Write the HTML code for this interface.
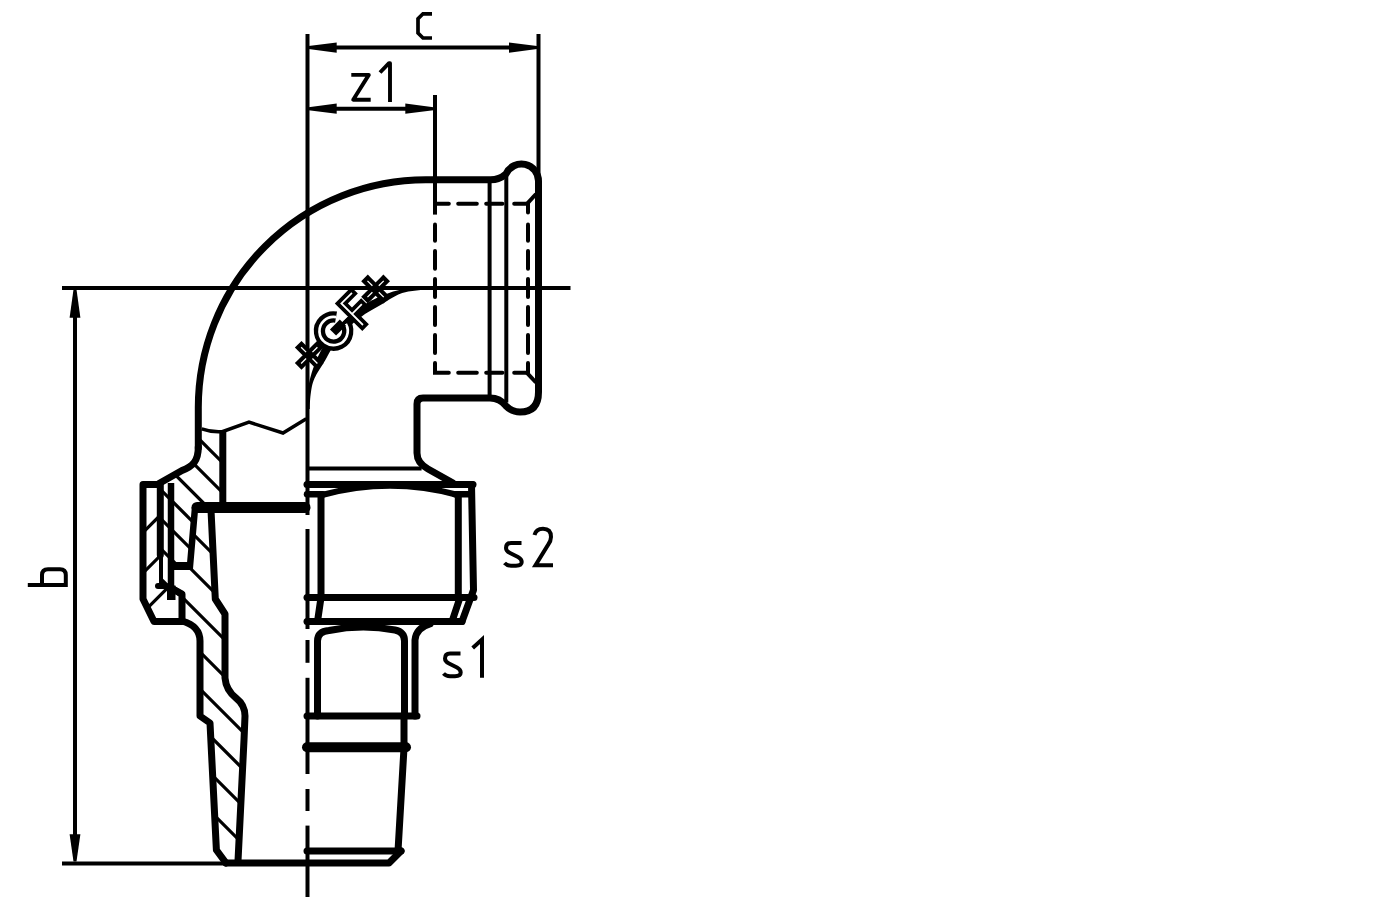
<!DOCTYPE html><html><head><meta charset="utf-8"><title>Union elbow drawing</title><style>html,body{margin:0;padding:0;background:#fff;width:1400px;height:900px;overflow:hidden;font-family:"Liberation Sans",sans-serif}svg{display:block}</style></head><body><svg width="1400" height="900" viewBox="0 0 1400 900"><defs><clipPath id="cb"><path d="M198,428 L222.5,431.7 L222.8,507 L194,507 L190,566 L171,566 L171,586 L160,586 L159,483 L182,470.5 C193,466 198.3,461 198.3,447 Z"/></clipPath><clipPath id="ct"><path d="M194,507 L211,507 L215.3,599 L225,614 L225,678 Q226,690 236,698 Q245,705 245,716 L244,740 L238,861 L226,863 L216.4,850 L210,723 L200,716 L200,639 L182,621 L182,594 L171,588 L171,566 L190,566 Z"/></clipPath><clipPath id="cn"><path d="M143,484.5 L160,484.5 L160.5,586 L173,589 L182,594 L182,621.5 L154,621.5 L143,599 Z"/></clipPath></defs><rect width="1400" height="900" fill="#fff"/><g fill="none" stroke="#000"><line x1="307.5" y1="34" x2="307.5" y2="515" stroke-width="4" stroke-linecap="butt"/>
<line x1="538.5" y1="34" x2="538.5" y2="186" stroke-width="4" stroke-linecap="butt"/>
<line x1="435" y1="95" x2="435" y2="214.6" stroke-width="4" stroke-linecap="butt"/>
<line x1="62" y1="288" x2="570.5" y2="288" stroke-width="4" stroke-linecap="butt"/>
<line x1="62" y1="863.5" x2="226" y2="863.5" stroke-width="4" stroke-linecap="butt"/>
<line x1="320" y1="47.6" x2="525" y2="47.6" stroke-width="4" stroke-linecap="butt"/>
<polygon points="308.5,46.1 336.7,42.5 336.7,52.7 308.5,49.1" fill="#000" stroke="none"/>
<polygon points="537,46.1 509,42.5 509,52.7 537,49.1" fill="#000" stroke="none"/>
<line x1="320" y1="108.7" x2="421" y2="108.7" stroke-width="4" stroke-linecap="butt"/>
<polygon points="308.5,107.2 336.7,103.6 336.7,113.8 308.5,110.2" fill="#000" stroke="none"/>
<polygon points="433.5,107.2 405.3,103.6 405.3,113.8 433.5,110.2" fill="#000" stroke="none"/>
<line x1="75" y1="300" x2="75" y2="850" stroke-width="4" stroke-linecap="butt"/>
<polygon points="73.5,289.4 69.6,317.8 80.4,317.8 76.5,289.4" fill="#000" stroke="none"/>
<polygon points="73.5,861.4 69.6,834.3 80.4,834.3 76.5,861.4" fill="#000" stroke="none"/>
<line x1="307.5" y1="529" x2="307.5" y2="629" stroke-width="4" stroke-linecap="butt"/>
<line x1="307.5" y1="640" x2="307.5" y2="662.8" stroke-width="4" stroke-linecap="butt"/>
<line x1="307.5" y1="677.8" x2="307.5" y2="774" stroke-width="4" stroke-linecap="butt"/>
<line x1="307.5" y1="789" x2="307.5" y2="811" stroke-width="4" stroke-linecap="butt"/>
<line x1="307.5" y1="825.6" x2="307.5" y2="897" stroke-width="4" stroke-linecap="butt"/>
<path d="M432,13.8 H423 L418,18.8 V33 L423,38 H432" stroke-width="3.7" stroke-linecap="butt" stroke-linejoin="miter" />
<path d="M351.3,74.9 H368.8 L353.2,99.7 H370.7" stroke-width="3.9" stroke-linecap="butt" stroke-linejoin="round" />
<path d="M380,72.5 L389,63.2 H390 V102" stroke-width="3.9" stroke-linecap="butt" stroke-linejoin="round" />
<path d="M27.8,584.9 H67.8 M42,584.9 V575 Q42,569.2 48,569.2 H60 Q65.8,569.2 65.8,575 V584.9" stroke-width="4" stroke-linecap="butt" stroke-linejoin="round" />
<path d="M521.5,543 H511 Q506,543 506,548 Q506,551 510,553 L518,557 Q521.7,559 521.7,562 Q521.7,565.7 516,565.7 H511 Q507,565.7 504.5,563" stroke-width="4" stroke-linecap="butt" stroke-linejoin="round" />
<path d="M534.5,535 Q536,528.7 543,528.7 Q551,528.7 551,537 Q551,541 548,545 L535.5,565.3 H553" stroke-width="4" stroke-linecap="butt" stroke-linejoin="miter" />
<path d="M460.5,653.5 H450 Q445,653.5 445,658.5 Q445,661.5 449,663.5 L457,667.5 Q460.70000000000005,669.5 460.70000000000005,672.5 Q460.70000000000005,676.2 455,676.2 H450 Q446,676.2 443.5,673.5" stroke-width="4" stroke-linecap="butt" stroke-linejoin="round" />
<path d="M472.7,648 L482,639.5 V677.7" stroke-width="4" stroke-linecap="butt" stroke-linejoin="miter" />
<path d="M198.3,448 V407.5 A227.7,227.7 0 0 1 426,179.8 H490 Q499,180 506.1,173.8 A17,17 0 0 1 538.5,181 V392 Q538.5,412 520,412 Q512,412 506,406 Q500,398 490,398 H423 Q417,398 417,404 V453 Q417,463 428,469 L453,483" stroke-width="7" stroke-linecap="round" stroke-linejoin="round" />
<line x1="435" y1="224.4" x2="435" y2="240.8" stroke-width="4" stroke-linecap="round"/>
<line x1="528" y1="224.4" x2="528" y2="240.8" stroke-width="4" stroke-linecap="round"/>
<line x1="435" y1="250.9" x2="435" y2="268.8" stroke-width="4" stroke-linecap="round"/>
<line x1="528" y1="250.9" x2="528" y2="268.8" stroke-width="4" stroke-linecap="round"/>
<line x1="435" y1="279" x2="435" y2="297" stroke-width="4" stroke-linecap="round"/>
<line x1="528" y1="279" x2="528" y2="297" stroke-width="4" stroke-linecap="round"/>
<line x1="435" y1="307" x2="435" y2="325" stroke-width="4" stroke-linecap="round"/>
<line x1="528" y1="307" x2="528" y2="325" stroke-width="4" stroke-linecap="round"/>
<line x1="435" y1="335" x2="435" y2="353" stroke-width="4" stroke-linecap="round"/>
<line x1="528" y1="335" x2="528" y2="353" stroke-width="4" stroke-linecap="round"/>
<line x1="435" y1="203.8" x2="448.8" y2="203.8" stroke-width="4" stroke-linecap="round"/>
<path d="M514.2,203.8 H528 V212.6" stroke-width="4" stroke-linecap="round" stroke-linejoin="miter" />
<path d="M435,363.1 V372.8 H448.8" stroke-width="4" stroke-linecap="round" stroke-linejoin="miter" />
<path d="M514.2,372.8 H528 V363.1" stroke-width="4" stroke-linecap="round" stroke-linejoin="miter" />
<line x1="458.2" y1="203.8" x2="476.8" y2="203.8" stroke-width="4" stroke-linecap="round"/>
<line x1="486.2" y1="203.8" x2="502.4" y2="203.8" stroke-width="4" stroke-linecap="round"/>
<line x1="458.2" y1="372.8" x2="476.8" y2="372.8" stroke-width="4" stroke-linecap="round"/>
<line x1="486.2" y1="372.8" x2="502.4" y2="372.8" stroke-width="4" stroke-linecap="round"/>
<line x1="527" y1="203.8" x2="536" y2="194" stroke-width="4" stroke-linecap="butt"/>
<line x1="527" y1="372.8" x2="536" y2="382.5" stroke-width="4" stroke-linecap="butt"/>
<line x1="489.6" y1="182.8" x2="489.6" y2="395" stroke-width="4" stroke-linecap="butt"/>
<line x1="506.3" y1="173.4" x2="506.3" y2="402.5" stroke-width="4" stroke-linecap="butt"/>
<path d="M306.25,409.00 L306.27,406.86 L306.32,404.72 L306.42,402.58 L306.55,400.44 L306.72,398.30 L306.92,396.17 L307.16,394.04 L307.44,391.92 L307.76,389.80 L308.11,387.68 L308.51,385.58 L308.93,383.48 L309.40,381.39 L309.90,379.30 L310.43,377.23 L311.01,375.17 L311.61,373.11 L312.26,371.07 L312.94,369.04 L313.65,367.02 L314.40,365.01 L315.19,363.02 L316.01,361.04 L316.86,359.07 L317.75,357.12 L318.67,355.19 L319.63,353.27 L320.62,351.37 L321.64,349.49 L322.70,347.62 L323.78,345.78 L324.90,343.95 L326.05,342.15 L327.24,340.36 L328.45,338.59 L329.69,336.85 L330.97,335.13 L332.27,333.43 L333.61,331.75 L334.97,330.10 L336.36,328.47 L337.78,326.86 L339.23,325.28 L340.70,323.73 L342.20,322.20 L343.73,320.70 L345.28,319.23 L346.86,317.78 L348.47,316.36 L350.10,314.97 L351.75,313.61 L353.43,312.27 L355.13,310.97 L356.85,309.69 L358.59,308.45 L360.36,307.24 L362.15,306.05 L363.95,304.90 L365.78,303.78 L367.62,302.70 L369.49,301.64 L371.37,300.62 L373.27,299.63 L375.19,298.67 L377.12,297.75 L379.07,296.86 L381.04,296.01 L383.02,295.19 L385.01,294.40 L387.02,293.65 L389.04,292.94 L391.07,292.26 L393.11,291.61 L395.17,291.01 L397.23,290.43 L399.30,289.90 L401.39,289.40 L403.48,288.93 L405.58,288.51 L407.68,288.11 L409.80,287.76 L411.92,287.44 L414.04,287.16 L416.17,286.92 L418.30,286.72 L420.44,286.55 L422.58,286.42 L424.72,286.32 L426.86,286.27 L429.00,286.25 L429.00,289.75 L426.92,289.77 L424.84,289.82 L422.76,289.91 L420.68,290.04 L418.61,290.20 L416.53,290.40 L414.47,290.64 L412.40,290.91 L410.35,291.22 L408.29,291.56 L406.25,291.94 L404.22,292.41 L402.22,293.01 L400.26,293.72 L398.33,294.54 L396.44,295.44 L394.58,296.41 L392.75,297.44 L390.96,298.52 L389.19,299.62 L387.44,300.73 L385.71,301.85 L383.99,302.96 L382.27,304.04 L380.54,305.09 L378.80,306.08 L377.04,307.02 L375.27,307.95 L373.51,308.90 L371.77,309.88 L370.05,310.90 L368.35,311.94 L366.67,313.01 L365.00,314.12 L363.35,315.25 L361.73,316.41 L360.12,317.60 L358.54,318.81 L356.97,320.06 L355.43,321.33 L353.91,322.62 L352.42,323.95 L350.95,325.30 L349.50,326.67 L348.07,328.07 L346.67,329.50 L345.30,330.95 L343.95,332.42 L342.62,333.91 L341.33,335.43 L340.06,336.97 L338.81,338.54 L337.60,340.12 L336.41,341.73 L335.25,343.35 L334.12,345.00 L333.01,346.67 L331.94,348.35 L330.90,350.05 L329.88,351.77 L328.90,353.51 L327.95,355.27 L327.02,357.04 L326.08,358.80 L325.09,360.54 L324.04,362.27 L322.96,363.99 L321.85,365.71 L320.73,367.44 L319.62,369.19 L318.52,370.96 L317.44,372.75 L316.41,374.58 L315.44,376.44 L314.54,378.33 L313.72,380.26 L313.01,382.22 L312.41,384.22 L311.94,386.25 L311.56,388.29 L311.22,390.35 L310.91,392.40 L310.64,394.47 L310.40,396.53 L310.20,398.61 L310.04,400.68 L309.91,402.76 L309.82,404.84 L309.77,406.92 L309.75,409.00 Z" fill="#000" stroke="none"/>
<path d="M307,484.4 H473" stroke-width="7" stroke-linecap="round" stroke-linejoin="round" />
<path d="M307,494.3 H323" stroke-width="6.5" stroke-linecap="round" stroke-linejoin="round" />
<path d="M455,494.3 H469" stroke-width="6.5" stroke-linecap="round" stroke-linejoin="round" />
<path d="M322,495 Q390,476.5 458,495" stroke-width="6" stroke-linecap="round" stroke-linejoin="round" />
<path d="M321,497 V597.5" stroke-width="7" stroke-linecap="round" stroke-linejoin="round" />
<path d="M458.3,495 V597.5" stroke-width="7" stroke-linecap="round" stroke-linejoin="round" />
<path d="M471.5,484.4 L473.5,590 L462,621.5" stroke-width="7" stroke-linecap="round" stroke-linejoin="round" />
<path d="M307,597.5 H474" stroke-width="7" stroke-linecap="round" stroke-linejoin="round" />
<path d="M307,621.5 H462" stroke-width="7" stroke-linecap="round" stroke-linejoin="round" />
<path d="M321,597.5 L317.5,621.5" stroke-width="7" stroke-linecap="round" stroke-linejoin="round" />
<path d="M460,597.5 L452,621.5" stroke-width="7" stroke-linecap="round" stroke-linejoin="round" />
<path d="M317.5,716 V641 Q317.5,631.5 329,630.5 Q362,624 395,630 Q404.5,632 404.5,641 V716" stroke-width="7" stroke-linecap="round" stroke-linejoin="round" />
<path d="M415,716 V640 Q416,628 430,624" stroke-width="7" stroke-linecap="round" stroke-linejoin="round" />
<path d="M307,716 H417" stroke-width="7" stroke-linecap="round" stroke-linejoin="round" />
<path d="M404,716 V748 L398,851" stroke-width="7" stroke-linecap="round" stroke-linejoin="round" />
<path d="M307,747.2 H406" stroke-width="10" stroke-linecap="round" stroke-linejoin="round" />
<path d="M307,851 H401" stroke-width="7" stroke-linecap="round" stroke-linejoin="round" />
<path d="M226,863 H389 L401,851" stroke-width="7" stroke-linecap="round" stroke-linejoin="round" />
<line x1="307" y1="468.5" x2="421.6" y2="468.5" stroke-width="4" stroke-linecap="butt"/>
<path d="M198.3,447 C198.3,461 193,466 182,470.5 L159,483.5" stroke-width="7" stroke-linecap="round" stroke-linejoin="round" />
<path d="M159,484.5 H143 V599 L154,621.5 H182 V594 L173,589" stroke-width="7" stroke-linecap="round" stroke-linejoin="round" />
<path d="M160.3,484.5 V555" stroke-width="7" stroke-linecap="round" stroke-linejoin="round" />
<path d="M161,555 V586" stroke-width="4" stroke-linecap="round" stroke-linejoin="round" />
<path d="M158,586 H166" stroke-width="6" stroke-linecap="round" stroke-linejoin="round" />
<path d="M171,483 V599" stroke-width="6.5" stroke-linecap="butt" stroke-linejoin="round" />
<path d="M168.5,587 H174 V598.5 H168.5 Z" stroke-width="3" stroke-linecap="round" stroke-linejoin="miter" fill="#000"/>
<path d="M173,589 L182.5,595" stroke-width="6.5" stroke-linecap="butt" stroke-linejoin="round" />
<path d="M305,507.5 H197" stroke-width="11" stroke-linecap="round" stroke-linejoin="round" />
<path d="M195,508 L190,566 H173" stroke-width="6.5" stroke-linecap="round" stroke-linejoin="miter" />
<path d="M190,566 H173" stroke-width="8" stroke-linecap="butt" stroke-linejoin="round" />
<path d="M222.8,430 V503" stroke-width="7" stroke-linecap="butt" stroke-linejoin="round" />
<path d="M211,510 L215.3,599 L225,614 V678 Q226,690 236,698 Q245,705 245,716 L244,740 L238,861" stroke-width="7" stroke-linecap="round" stroke-linejoin="round" />
<path d="M182,621 Q200,626 200,641 V716 L210,723 L216.4,850 L226,863" stroke-width="7" stroke-linecap="round" stroke-linejoin="round" />
<path d="M201.7,428.9 Q212,432.5 222.2,431.7 L249,422.2 L283,433 L306.3,418.8" stroke-width="3.5" stroke-linecap="butt" stroke-linejoin="miter" />
<g clip-path="url(#cb)" stroke-width="3.3"><line x1="160" y1="400" x2="410" y2="650"/><line x1="130" y1="400" x2="380" y2="650"/><line x1="100.5" y1="400" x2="350.5" y2="650"/><line x1="71" y1="400" x2="321" y2="650"/><line x1="42" y1="400" x2="292" y2="650"/><line x1="12" y1="400" x2="262" y2="650"/><line x1="-18" y1="400" x2="232" y2="650"/></g>
<g clip-path="url(#ct)" stroke-width="3.3"><line x1="139" y1="480" x2="559" y2="900"/><line x1="102" y1="480" x2="522" y2="900"/><line x1="65" y1="480" x2="485" y2="900"/><line x1="28" y1="480" x2="448" y2="900"/><line x1="-9" y1="480" x2="411" y2="900"/><line x1="-46" y1="480" x2="374" y2="900"/><line x1="-83" y1="480" x2="337" y2="900"/><line x1="-121" y1="480" x2="299" y2="900"/></g>
<g clip-path="url(#cn)" stroke-width="3.3"><line x1="100" y1="575.5" x2="250" y2="425.5"/><line x1="100" y1="616" x2="250" y2="466"/><line x1="100" y1="655.5" x2="250" y2="505.5"/></g>
<g transform="translate(333.6,331) rotate(-45)" fill="none" stroke="#000"><circle r="9" fill="#fff" stroke="none"/><path d="M-45.4,0 H-23.4 M-34.4,-11 V11" stroke-width="9.4" stroke-linecap="square"/><path d="M48.4,0 H70.4 M59.4,-11 V11" stroke-width="9.4" stroke-linecap="square"/><path d="M11.59,-8.12 A14.15,14.15 0 1 0 14.15,0" stroke-width="11.3"/><path d="M25,15.6 V-14 H39 M25,1 H38" stroke-width="9.3" stroke-linecap="square" stroke-linejoin="miter"/><path d="M-45.9,0 H-38.9 M-29.9,0 H-22.9 M-34.4,-11.5 V-4.5 M-34.4,4.5 V11.5" stroke="#fff" stroke-width="1.3"/><path d="M47.9,0 H54.9 M63.9,0 H70.9 M59.4,-11.5 V-4.5 M59.4,4.5 V11.5" stroke="#fff" stroke-width="1.3"/><path d="M11.59,-8.12 A14.15,14.15 0 1 0 13.67,3.66" stroke="#fff" stroke-width="2.7"/><path d="M25,15.6 V-14 H39 M25,1 H38" stroke="#fff" stroke-width="1.8" stroke-linecap="square" stroke-linejoin="miter"/><rect x="-1.5" y="-3.7" width="14" height="8.7" fill="#000" stroke="none"/></g></g></svg></body></html>
